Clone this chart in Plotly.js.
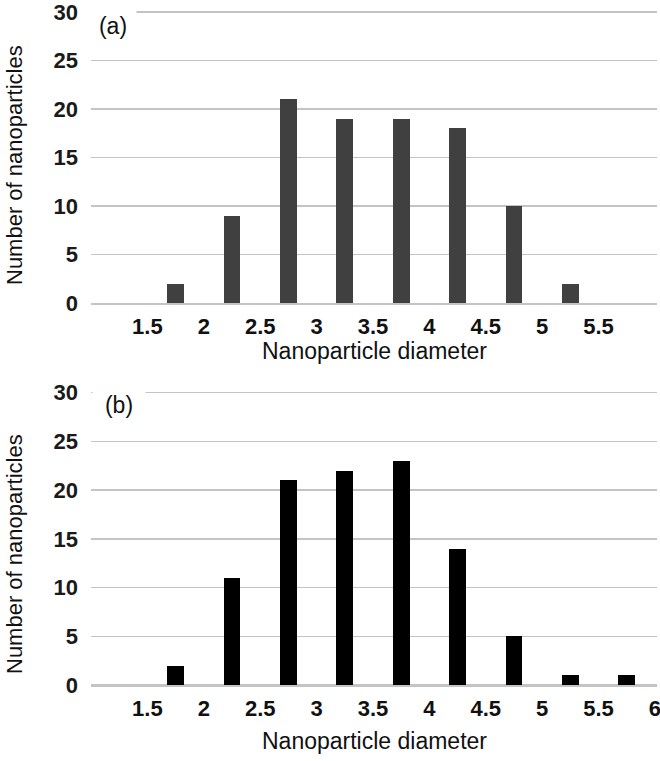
<!DOCTYPE html>
<html>
<head>
<meta charset="utf-8">
<script src="https://cdn.plot.ly/plotly-3.0.1.min.js"></script>
<style>
  html, body { margin: 0; padding: 0; background: #fff; }
  #graphDiv { width: 660px; height: 761px; }
</style>
</head>
<body>
<div id="graphDiv"></div>
<script>
// Nanoparticle size histograms, panel (a) and panel (b)

// bin centres (diameter) and counts
var binCentres = [1.25, 1.75, 2.25, 2.75, 3.25, 3.75, 4.25, 4.75, 5.25, 5.75];
var countsA = [0, 2, 9, 21, 19, 19, 18, 10, 2, 0];
var countsB = [0, 2, 11, 21, 22, 23, 14, 5, 1, 1];

// tick labels on the diameter axis (bin edges)
var ticksA = [1.5, 2, 2.5, 3, 3.5, 4, 4.5, 5, 5.5];
var ticksB = [1.5, 2, 2.5, 3, 3.5, 4, 4.5, 5, 5.5, 6];
var countTicks = [0, 5, 10, 15, 20, 25, 30];

var xTitle = "Nanoparticle diameter";
var yTitle = "Number of nanoparticles";

var font = "Liberation Sans, Arial, sans-serif";
var grid = "#c4c4c4";

var traceA = {
    x: binCentres,
    y: countsA,
    type: 'bar',
    width: 0.15,
    marker: { color: "#404040" },
    xaxis: 'x',
    yaxis: 'y',
    hoverinfo: 'x+y'
};

var traceB = {
    x: binCentres,
    y: countsB,
    type: 'bar',
    width: 0.15,
    marker: { color: "#000000" },
    xaxis: 'x2',
    yaxis: 'y2',
    hoverinfo: 'x+y'
};

// ranges run a hair past the last tick so plotly keeps the end gridline / label
const xAxis = (ticks, anchor) => ({
    range: [1, 6.018],
    anchor: anchor,
    domain: [0, 1],
    tickmode: 'array',
    tickvals: ticks,
    ticktext: ticks.map(String),
    showgrid: false,
    zeroline: false,
    showline: true,
    linecolor: grid,
    linewidth: 1.5,
    ticks: '',
    ticklabelstandoff: 3,
    ticklabeloverflow: 'allow',
    tickfont: { family: font, size: 22, weight: 'bold', color: "#111" },
    fixedrange: true
})

const yAxis = (domain, anchor) => ({
    range: [0, 30.2],
    domain: domain,
    anchor: anchor,
    tickmode: 'array',
    tickvals: countTicks,
    showgrid: true,
    gridcolor: grid,
    gridwidth: 1.5,
    zeroline: true,
    zerolinecolor: grid,
    zerolinewidth: 1.5,
    showline: false,
    ticks: '',
    ticklabelstandoff: 12,
    ticklabeloverflow: 'allow',
    tickfont: { family: font, size: 22, weight: 'bold', color: "#1a1a1a" },
    fixedrange: true
})

// paper positions for the texts (plot area 91..657 x 10..685 px)
const px = (p) => (p - 91) / 566;
const py = (p) => (685 - p) / 675;

const xTitleFont = { family: font, size: 23, color: "#111" };
const yTitleFont = { family: font, size: 22, color: "#111" };
const panelFont = { family: font, size: 23, color: "#111" };

var annotations = [
    { text: xTitle, x: px(374), y: py(351), xref: 'paper', yref: 'paper',
      xanchor: 'center', yanchor: 'middle', showarrow: false, font: xTitleFont },
    { text: xTitle, x: px(374), y: py(741), xref: 'paper', yref: 'paper',
      xanchor: 'center', yanchor: 'middle', showarrow: false, font: xTitleFont },
    { text: yTitle, x: px(14), y: py(165), xref: 'paper', yref: 'paper', textangle: -90,
      xanchor: 'center', yanchor: 'middle', showarrow: false, font: yTitleFont },
    { text: yTitle, x: px(14), y: py(554), xref: 'paper', yref: 'paper', textangle: -90,
      xanchor: 'center', yanchor: 'middle', showarrow: false, font: yTitleFont },
    // panel labels sit on a white box that hides the top gridline
    { text: "(a)", x: px(113), y: py(26), xref: 'paper', yref: 'paper',
      xanchor: 'center', yanchor: 'middle', showarrow: false, width: 44, height: 30,
      bgcolor: "#ffffff", font: panelFont },
    { text: "(b)", x: px(119), y: py(405), xref: 'paper', yref: 'paper',
      xanchor: 'center', yanchor: 'middle', showarrow: false, width: 50, height: 34,
      bgcolor: "#ffffff", font: panelFont }
];

var layout = {
    width: 660,
    height: 761,
    margin: { l: 91, r: 3, t: 10, b: 76 },
    paper_bgcolor: "#ffffff",
    plot_bgcolor: "#ffffff",
    showlegend: false,
    bargap: 0,
    xaxis: xAxis(ticksA, 'y'),
    yaxis: yAxis([0.5655, 1], 'x'),
    xaxis2: xAxis(ticksB, 'y2'),
    yaxis2: yAxis([0, 0.4359], 'x2'),
    annotations: annotations,
    font: { family: font }
};

graphDiv = document.getElementById('graphDiv');
Plotly.newPlot(graphDiv, [traceA, traceB], layout, { displayModeBar: false, staticPlot: true });
</script>
</body>
</html>
